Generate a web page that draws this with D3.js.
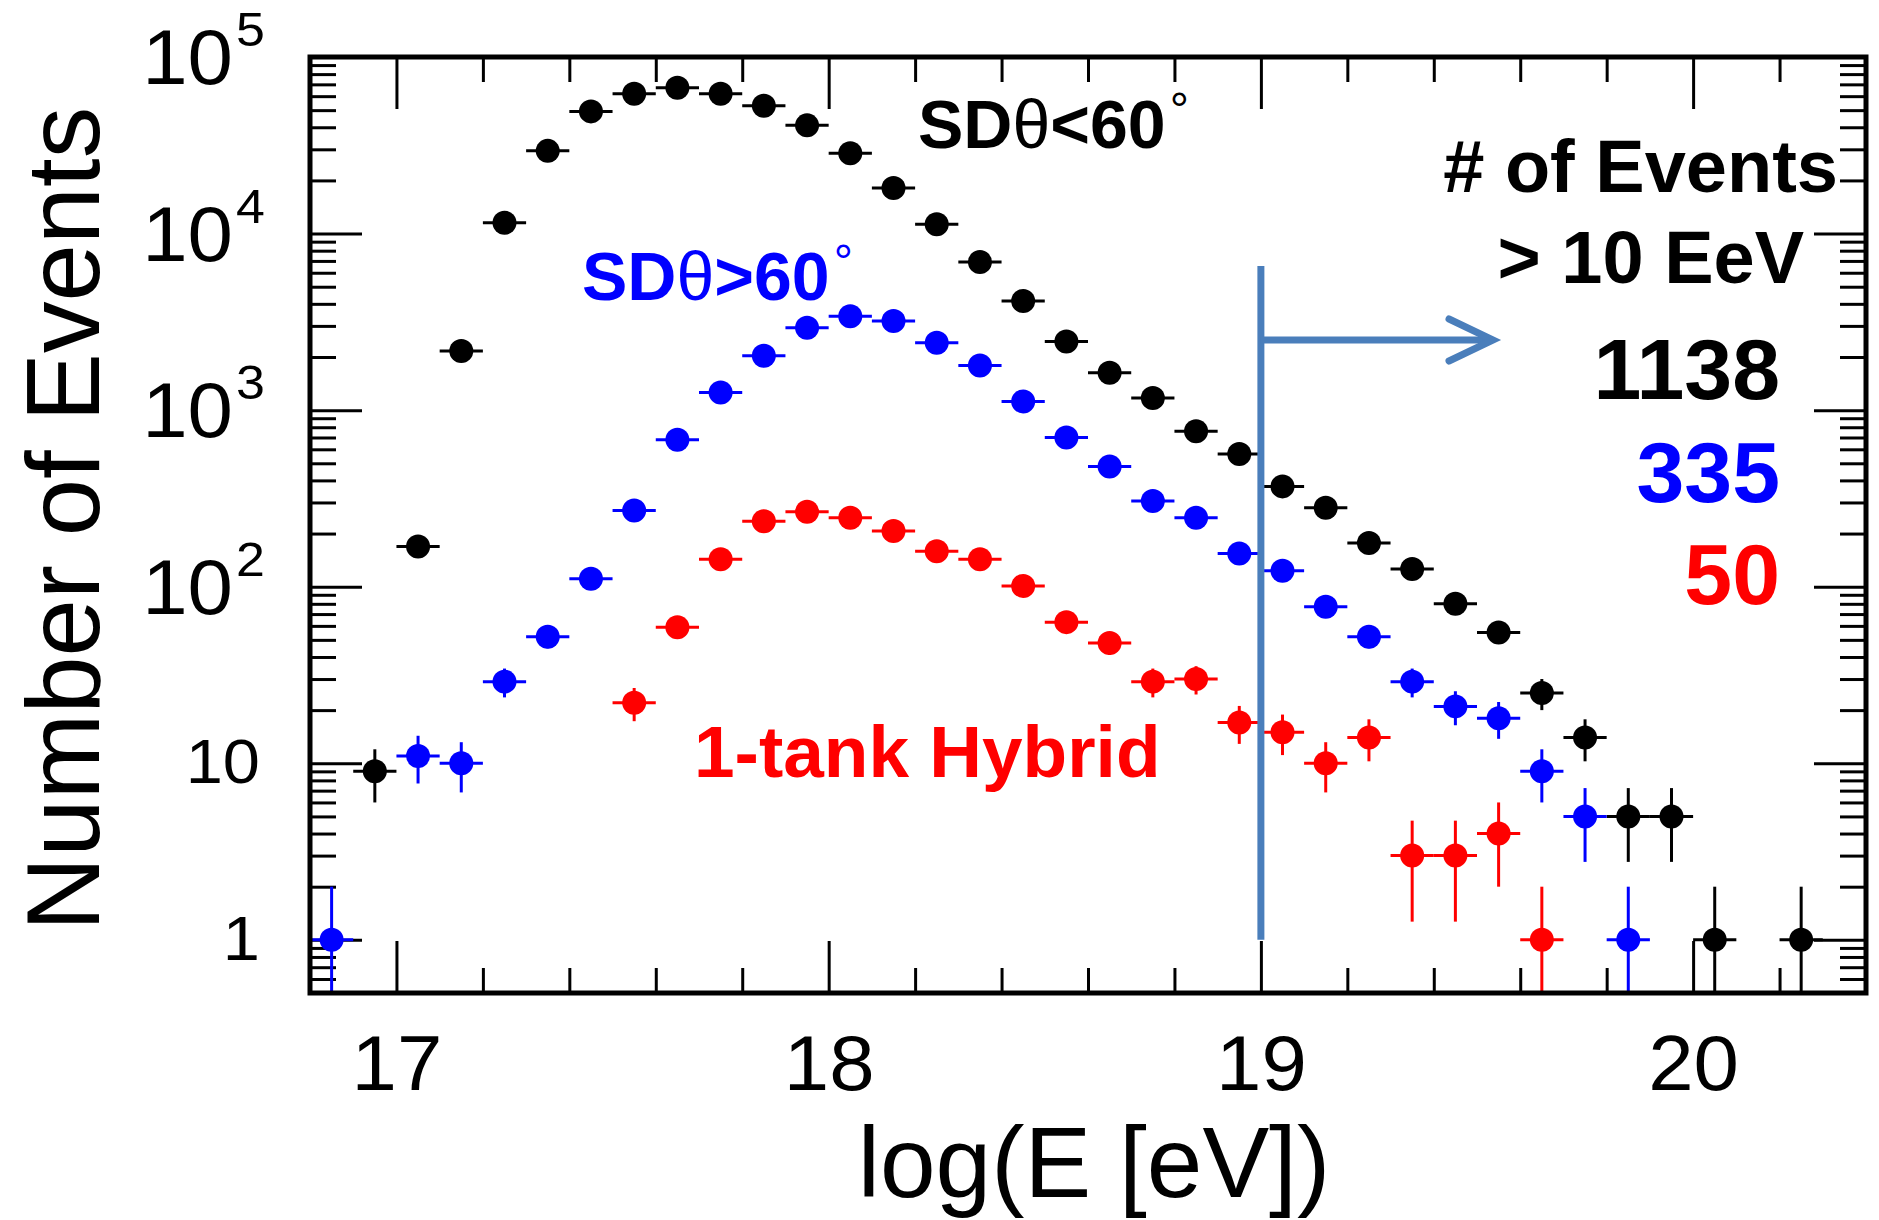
<!DOCTYPE html>
<html>
<head>
<meta charset="utf-8">
<script src="https://cdn.jsdelivr.net/npm/d3@7/dist/d3.min.js"></script>
<style>
  body { margin: 0; background: #ffffff; }
  svg { display: block; }
</style>
</head>
<body>
<svg id="chart" width="1879" height="1220"></svg>
<script>
// bin centres in log10(E/eV)
var logE = [16.85, 16.95, 17.05, 17.15, 17.25, 17.35, 17.45, 17.55, 17.65, 17.75,
            17.85, 17.95, 18.05, 18.15, 18.25, 18.35, 18.45, 18.55, 18.65, 18.75,
            18.85, 18.95, 19.05, 19.15, 19.25, 19.35, 19.45, 19.55, 19.65, 19.75,
            19.85, 19.95, 20.05, 20.15, 20.25];

// event counts per bin (0 = empty bin)
var sdVertical = [0, 9, 169, 2160, 11500, 29400, 49200, 62000, 67000, 62000,
                  53000, 41000, 28500, 18100, 11300, 6900, 4150, 2450, 1630, 1170,
                  760, 565, 370, 280, 177, 126, 80, 55, 25, 14,
                  5, 5, 1, 0, 1];
var sdInclined = [1, 0, 11, 10, 29, 52, 111, 270, 680, 1260,
                  2030, 2930, 3400, 3200, 2410, 1790, 1120, 700, 480, 306,
                  246, 154, 123, 77, 52, 29, 21, 18, 9, 5,
                  1, 0, 0, 0, 0];
var hybrid = [0, 0, 0, 0, 0, 0, 0, 22, 59, 143,
              235, 266, 246, 207, 159, 143, 101, 63, 48, 29,
              30, 17, 15, 10, 14, 3, 3, 4, 1, 0,
              0, 0, 0, 0, 0];

var xMajor = [17, 18, 19, 20];
var yMajor = [1, 10, 100, 1000, 10000, 100000];
var eventTotals = ["1138", "335", "50"];

var rootFont = "'Liberation Sans', Arial, Helvetica, sans-serif";

var svg = d3.select("#chart");

var margins = {
    top: 57,
    bottom: 227,
    left: 310,
    right: 13
};
var width = +svg.attr("width") - margins.left - margins.right;
var height = +svg.attr("height") - margins.top - margins.bottom;

// scales
var x = d3.scaleLinear().domain([16.8, 20.4]).range([margins.left, margins.left + width]);
var y = d3.scaleLog().domain([0.5, 1e5]).range([margins.top + height, margins.top]);

var xMinor = d3.range(84, 103).map(d => d / 5).filter(v => xMajor.indexOf(v) < 0);
var yMinor = y.ticks().filter(v => yMajor.indexOf(v) < 0);

function styleTicks(g) {
    g.select(".domain").remove();
    g.selectAll("text").remove();
    g.selectAll("line").attr("stroke", "#000").attr("stroke-width", 3);
}

// bottom + top axes (ticks pointing inwards)
svg.append("g")
    .attr("transform", "translate(0," + y.range()[0] + ")")
    .call(d3.axisBottom(x).tickValues(xMinor).tickSize(-25).tickFormat(""))
    .call(styleTicks);
var xAxis = svg.append("g")
    .attr("transform", "translate(0," + y.range()[0] + ")")
    .call(d3.axisBottom(x).tickValues(xMajor).tickSize(-52).tickFormat(d3.format("d")))
    .attr("font-family", rootFont)
    .attr("font-size", 77);
xAxis.select(".domain").remove();
xAxis.selectAll("line").attr("stroke", "#000").attr("stroke-width", 3);
xAxis.selectAll("text")
    .attr("y", 97)
    .attr("dy", null)
    .attr("fill", "#000")
    .attr("transform", "scale(1.06,1)");

svg.append("g")
    .attr("transform", "translate(0," + y.range()[1] + ")")
    .call(d3.axisTop(x).tickValues(xMinor).tickSize(-25).tickFormat(""))
    .call(styleTicks);
svg.append("g")
    .attr("transform", "translate(0," + y.range()[1] + ")")
    .call(d3.axisTop(x).tickValues(xMajor).tickSize(-52).tickFormat(""))
    .call(styleTicks);

// left + right axes
[[d3.axisLeft, margins.left], [d3.axisRight, margins.left + width]].forEach(function (a) {
    svg.append("g")
        .attr("transform", "translate(" + a[1] + ",0)")
        .call(a[0](y).tickValues(yMinor).tickSize(-26).tickFormat(""))
        .call(styleTicks);
    svg.append("g")
        .attr("transform", "translate(" + a[1] + ",0)")
        .call(a[0](y).tickValues(yMajor).tickSize(-52).tickFormat(""))
        .call(styleTicks);
});

// y tick labels, ROOT style 10^n
var yLab = svg.append("g")
    .attr("font-family", rootFont)
    .attr("fill", "#000");
yMajor.forEach(function (v) {
    var ty = y(v);
    var p = Math.round(Math.log10(v));
    if (p >= 2) {
        yLab.append("text")
            .attr("transform", "translate(233," + (ty + 27) + ") scale(1.06,1)")
            .attr("text-anchor", "end")
            .attr("font-size", 77)
            .text("10");
        yLab.append("text")
            .attr("transform", "translate(236," + (ty - 11) + ") scale(1.06,1)")
            .attr("font-size", 49)
            .text(p);
    } else {
        yLab.append("text")
            .attr("transform", "translate(260," + (ty + 20) + ") scale(1.06,1)")
            .attr("text-anchor", "end")
            .attr("font-size", 63)
            .text(v);
    }
});

// axis titles
svg.append("text")
    .attr("x", margins.left + width / 2 + 6)
    .attr("y", 1197)
    .attr("text-anchor", "middle")
    .attr("font-family", rootFont)
    .attr("font-size", 100)
    .text("log(E [eV])");

svg.append("text")
    .attr("transform", "translate(99," + (margins.top + height / 2 - 6) + ") rotate(-90)")
    .attr("text-anchor", "middle")
    .attr("font-family", rootFont)
    .attr("font-size", 103)
    .text("Number of Events");

// data points with poisson error bars
var series = [
    {values: sdVertical, color: "#000000"},
    {values: sdInclined, color: "#0000ff"},
    {values: hybrid, color: "#ff0000"}
];

var plot = svg.append("g");
series.forEach(function (s) {
    var pts = logE.map((e, i) => ({e: e, n: s.values[i]})).filter(d => d.n > 0);
    var g = plot.append("g").attr("stroke", s.color).attr("fill", s.color).attr("stroke-width", 3);
    g.selectAll("line.h").data(pts).enter().append("line")
        .attr("class", "h")
        .attr("x1", d => x(d.e - 0.05))
        .attr("x2", d => x(d.e + 0.05))
        .attr("y1", d => y(d.n))
        .attr("y2", d => y(d.n));
    g.selectAll("line.v").data(pts).enter().append("line")
        .attr("class", "v")
        .attr("x1", d => x(d.e))
        .attr("x2", d => x(d.e))
        .attr("y1", d => y(d.n + Math.sqrt(d.n)))
        .attr("y2", d => y(Math.max(d.n - Math.sqrt(d.n), 0.5)));
    g.selectAll("circle").data(pts).enter().append("circle")
        .attr("cx", d => x(d.e))
        .attr("cy", d => y(d.n))
        .attr("r", 12)
        .attr("stroke", "none");
});

// frame
svg.append("rect")
    .attr("x", margins.left)
    .attr("y", margins.top)
    .attr("width", width)
    .attr("height", height)
    .attr("fill", "none")
    .attr("stroke", "#000")
    .attr("stroke-width", 5);

// E > 10 EeV cut marker
var arrowColor = "#4a7ebb";
var cut = x(19);
var ann = svg.append("g")
    .attr("stroke", arrowColor)
    .attr("stroke-width", 7)
    .attr("fill", "none");
ann.append("line")
    .attr("x1", cut).attr("x2", cut)
    .attr("y1", 266).attr("y2", y(1));
ann.append("line")
    .attr("x1", cut).attr("x2", 1490)
    .attr("y1", 340).attr("y2", 340);
ann.append("polyline")
    .attr("points", "1449,319 1493,340 1449,361")
    .attr("stroke-linecap", "round")
    .attr("stroke-linejoin", "miter");

// labels
var labels = svg.append("g")
    .attr("font-family", "'Liberation Sans', Arial, sans-serif")
    .attr("font-weight", "bold");

function thetaLabel(xp, yp, cmp, color) {
    var t = labels.append("text")
        .attr("x", xp)
        .attr("y", yp)
        .attr("font-size", 68)
        .attr("fill", color);
    t.append("tspan").text("SD");
    t.append("tspan").attr("font-weight", "normal").text("θ");
    t.append("tspan").text(cmp + "60");
    t.append("tspan")
        .attr("font-weight", "normal")
        .attr("font-size", 48)
        .attr("dx", 4)
        .attr("dy", -22)
        .text("°");
}
thetaLabel(918, 148, "<", "#000000");
thetaLabel(582, 300, ">", "#0000ff");

labels.append("text")
    .attr("x", 694)
    .attr("y", 777)
    .attr("font-size", 73)
    .attr("fill", "#ff0000")
    .text("1-tank Hybrid");

labels.append("text")
    .attr("x", 1838)
    .attr("y", 192)
    .attr("text-anchor", "end")
    .attr("font-size", 74)
    .text("# of Events");
labels.append("text")
    .attr("x", 1804)
    .attr("y", 283)
    .attr("text-anchor", "end")
    .attr("font-size", 74)
    .text("> 10 EeV");

var totalY = [399, 502, 604];
eventTotals.forEach(function (t, i) {
    labels.append("text")
        .attr("x", 1780)
        .attr("y", totalY[i])
        .attr("text-anchor", "end")
        .attr("font-size", 86)
        .attr("fill", series[i].color)
        .text(t);
});
</script>
</body>
</html>
